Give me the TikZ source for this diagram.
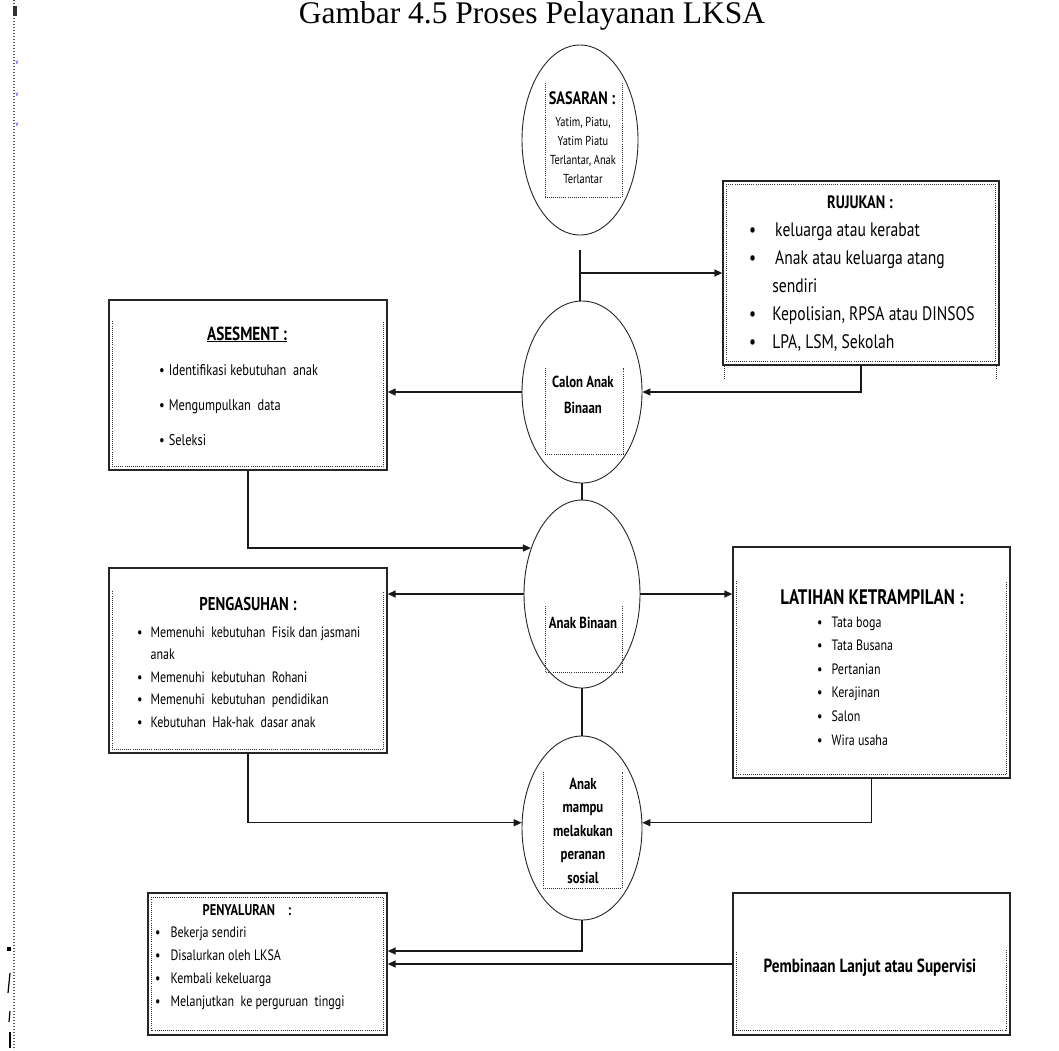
\documentclass[tikz,border=0pt]{standalone}
\usepackage{fontspec}
\setmainfont{PT Sans}[FakeStretch=0.8]
\newfontfamily\captionfont{Liberation Serif}
\usetikzlibrary{arrows.meta,shapes.geometric,positioning}

\tikzset{
  panel/.style={draw=black!85, line width=1.3pt, inner sep=0pt},
  oval/.style={ellipse, draw=black!85, line width=0.9pt, inner sep=0pt},
  inset/.style={draw=black!80, line width=0.9pt, dash pattern=on 0.9pt off 1.2pt},
  link/.style={draw=black!90, line width=1.3pt},
  arr/.style={link, -{Triangle[length=8pt,width=7pt]}},
  heading/.style={font=\bfseries\fontsize{#1}{#1}\selectfont, inner sep=0pt, anchor=base},
  bullets/.style={inner sep=0pt, anchor=base west},
}

\begin{document}
\begin{tikzpicture}[x=1pt,y=-1pt]
\useasboundingbox (0,0) rectangle (1059,1050);
\fill[white] (0,0) rectangle (1059,1050);

% caption
\node[font=\captionfont\fontsize{31.5}{32}\selectfont, inner sep=0pt, anchor=base] (caption) at (532,23) {Gambar 4.5 Proses Pelayanan LKSA};

% margin marks
\draw[line width=1.4pt, black!65, dash pattern=on 1.4pt off 1.6pt] (14,0) -- (14,1050);
\fill[black!80] (13,6) rectangle (17,16);
\foreach \y/\nm in {63/va,95/vb,125/vc}
  \node[text=blue, font=\fontsize{7}{7}\selectfont, inner sep=0pt] (\nm) at (17,\y) {v};
\fill (7,947) rectangle (11,951);
\draw[line width=1.2pt] (10,973) -- (8,993);
\draw[line width=1.2pt] (10,1011) -- (9,1022);
\draw[line width=1.2pt] (10,1032) -- (10,1048);

% ovals in the middle column
\node[oval, minimum width=116pt, minimum height=190pt] (sas) at (580,140) {};
\node[oval, minimum width=120pt, minimum height=182pt] (calon) at (582,392) {};
\node[oval, minimum width=116pt, minimum height=188pt] (ab) at (582,594) {};
\node[oval, minimum width=120pt, minimum height=184pt] (am) at (582,828) {};

\draw[inset] ([shift={(-35,-57)}]sas.center) |- ([shift={(42,57)}]sas.center) -- ([shift={(42,-57)}]sas.center);
\draw[inset] ([shift={(-37,-24)}]calon.center) |- ([shift={(41,62)}]calon.center) -- ([shift={(41,-24)}]calon.center);
\draw[inset] ([shift={(-37,12)}]ab.center) |- ([shift={(40,78)}]ab.center) -- ([shift={(40,12)}]ab.center);
\draw[inset] ([shift={(-39,-56)}]am.center) |- ([shift={(40,60)}]am.center) -- ([shift={(40,-56)}]am.center);

\node[heading=18] (sastitle) at (582,104) {SASARAN :};
\node[inner sep=0pt, anchor=base, font=\fontsize{13}{19}\selectfont] (sastext) at (583,126)
  {\begin{tabular}[t]{@{}c@{}}Yatim, Piatu,\\ Yatim Piatu\\ Terlantar, Anak\\ Terlantar\end{tabular}};
\node[inner sep=0pt, anchor=base, font=\bfseries\fontsize{16}{26}\selectfont] (calontext) at (583,387)
  {\begin{tabular}[t]{@{}c@{}}Calon Anak\\ Binaan\end{tabular}};
\node[heading=16] (abtext) at (583,628) {Anak Binaan};
\node[inner sep=0pt, anchor=base, font=\bfseries\fontsize{16}{23.5}\selectfont] (amtext) at (583,789)
  {\begin{tabular}[t]{@{}c@{}}Anak\\ mampu\\ melakukan\\ peranan\\ sosial\end{tabular}};

% boxes
\node[panel, minimum width=276pt, minimum height=184pt] (ruj) at (861,273) {};
\node[panel, minimum width=278pt, minimum height=170pt] (ases) at (248,385) {};
\node[panel, minimum width=278pt, minimum height=185pt] (peng) at (248,660.5) {};
\node[panel, minimum width=277pt, minimum height=231pt] (lat) at (871.5,662.5) {};
\node[panel, minimum width=239pt, minimum height=142pt] (peny) at (267.5,964) {};
\node[panel, minimum width=277pt, minimum height=142pt] (pemb) at (871.5,964) {};

\draw[inset] ([shift={(4,4)}]ruj.north west) rectangle ([shift={(-4,-4)}]ruj.south east);
\draw[inset] ([xshift=2pt]ruj.south west) -- ++(0,14);
\draw[inset] ([xshift=-3pt]ruj.south east) -- ++(0,14);
\draw[inset] ([shift={(4,22)}]ases.north west) |- ([shift={(-4,-4)}]ases.south east) -- ([shift={(-4,22)}]ases.north east);
\draw[inset] ([shift={(4,24)}]peng.north west) |- ([shift={(-4,-4)}]peng.south east) -- ([shift={(-4,24)}]peng.north east);
\draw[inset] ([shift={(4,35)}]lat.north west) |- ([shift={(-4,-4)}]lat.south east) -- ([shift={(-4,35)}]lat.north east);
\draw[inset] ([shift={(4,5)}]peny.north west) rectangle ([shift={(-4,-5)}]peny.south east);
\draw[inset] ([shift={(4,60)}]pemb.north west) |- ([shift={(-4,-5)}]pemb.south east) -- ([shift={(-4,57)}]pemb.north east);

\node[heading=18] (rujtitle) at (860,208) {RUJUKAN :};
\node[bullets, font=\fontsize{19.5}{28}\selectfont] (rujlist) at (749,236)
  {\begin{tabular}[t]{@{}l@{\hspace{19pt}}l@{}}
   \textbullet & keluarga atau kerabat\\
   \textbullet & Anak atau keluarga atang\\
   & \hspace{-3pt}sendiri\\
   \textbullet & \hspace{-3pt}Kepolisian, RPSA atau DINSOS\\
   \textbullet & \hspace{-3pt}LPA, LSM, Sekolah
   \end{tabular}};

\node[heading=19] (asestitle) at (247,340) {\underline{ASESMENT :}};
\node[bullets, font=\fontsize{15.5}{35}\selectfont] (aseslist) at (159,375)
  {\begin{tabular}[t]{@{}l@{\hspace{4pt}}l@{}}
   \textbullet & Identifikasi kebutuhan\ \ anak\\
   \textbullet & Mengumpulkan\ \ data\\
   \textbullet & Seleksi
   \end{tabular}};

\node[heading=18.5] (pengtitle) at (248,610) {PENGASUHAN :};
\node[bullets, font=\fontsize{15}{22.5}\selectfont] (penglist) at (137,637)
  {\begin{tabular}[t]{@{}l@{\hspace{8pt}}l@{}}
   \textbullet & Memenuhi\ \ kebutuhan\ \ Fisik dan jasmani\\
   & anak\\
   \textbullet & Memenuhi\ \ kebutuhan\ \ Rohani\\
   \textbullet & Memenuhi\ \ kebutuhan\ \ pendidikan\\
   \textbullet & Kebutuhan\ \ Hak-hak\ \ dasar anak
   \end{tabular}};

\node[heading=21] (lattitle) at (872,604) {LATIHAN KETRAMPILAN :};
\node[bullets, font=\fontsize{15}{23.6}\selectfont] (latlist) at (817,627)
  {\begin{tabular}[t]{@{}l@{\hspace{9pt}}l@{}}
   \textbullet & Tata boga\\
   \textbullet & Tata Busana\\
   \textbullet & Pertanian\\
   \textbullet & Kerajinan\\
   \textbullet & Salon\\
   \textbullet & Wira usaha
   \end{tabular}};

\node[heading=15.5] (penytitle) at (247,915) {PENYALURAN\hspace{13pt}:};
\node[bullets, font=\fontsize{15}{23.3}\selectfont] (penylist) at (155,937)
  {\begin{tabular}[t]{@{}l@{\hspace{10pt}}l@{}}
   \textbullet & Bekerja sendiri\\
   \textbullet & Disalurkan oleh LKSA\\
   \textbullet & Kembali kekeluarga\\
   \textbullet & Melanjutkan\ \ ke perguruan\ \ tinggi
   \end{tabular}};

\node[heading=19] (pembtext) at (870,972) {Pembinaan Lanjut atau Supervisi};

% connectors
\coordinate (fork) at (580,250);
\coordinate (tap) at (580,273);
\draw[link] (fork) -- (fork |- calon.north);
\draw[arr] (tap) -- (tap -| ruj.west);
\draw[arr] (ruj.south) |- (calon.east);
\draw[arr] (calon.west) -- (calon.west -| ases.east);
\draw[link] (calon.south) -- (ab.north);
\draw[arr] (ases.south) |- (ab.138);
\draw[arr] (ab.west) -- (ab.west -| peng.east);
\draw[arr] (ab.east) -- (ab.east -| lat.west);
\draw[link] (ab.south) -- (am.north);
\draw[arr] (peng.south) |- (am.175);
\draw[arr] (lat.south) |- (am.5);
\draw[arr] (am.south) |- ([yshift=13pt]peny.east);
\draw[arr] (pemb.west) -- (pemb.west -| peny.east);
\end{tikzpicture}
\end{document}
